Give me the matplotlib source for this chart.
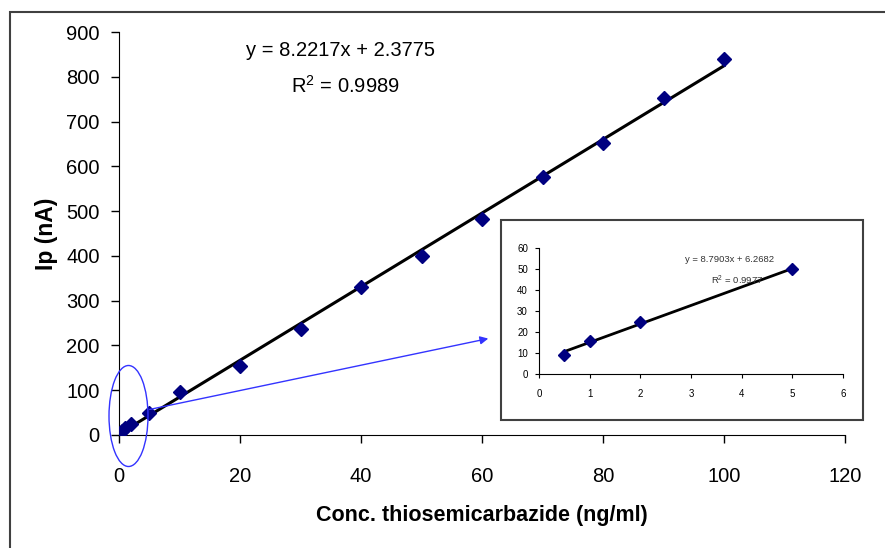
import matplotlib
matplotlib.use("Agg")
import matplotlib.pyplot as plt
from matplotlib.patches import Rectangle, Ellipse, FancyArrowPatch

plt.rcParams['font.family'] = ['Liberation Sans', 'DejaVu Sans']
plt.rcParams['mathtext.default'] = 'regular'

# main calibration data
conc = [0.5, 1, 2, 5, 10, 20, 30, 40, 50, 60, 70, 80, 90, 100]
ip = [9, 15.5, 25, 50, 95, 155, 237, 331, 399, 482, 577, 651, 752, 839]
slope, intercept = 8.2217, 2.3775
eq_text = "y = 8.2217x + 2.3775"
r2_text = "R$^2$ = 0.9989"

# inset (low concentration range)
conc_low = [0.5, 1, 2, 5]
ip_low = [9, 15.5, 25, 50]
slope_low, intercept_low = 8.7903, 6.2682
eq_low = "y = 8.7903x + 6.2682"
r2_low = "R$^2$ = 0.9977"

W, H = 885, 548
fig = plt.figure(figsize=(8.85, 5.48), dpi=100)

def fx(px):
    return px / W

def fy(py):
    return 1 - py / H

# outer frame
fig.patches.append(Rectangle((fx(10), fy(560)), fx(900), fy(12) - fy(560),
                             transform=fig.transFigure, fill=False,
                             edgecolor='#404040', lw=1.5))

ax = fig.add_axes([fx(119), fy(435), fx(845 - 119), fy(32) - fy(435)])
ax.plot(conc, ip, 'D', color='#000080', markersize=7.5, zorder=3)
xs = [conc[0], conc[-1]]
ax.plot(xs, [slope * x + intercept for x in xs], color='black', lw=2.2, zorder=2)
ax.set_xlim(0, 120)
ax.set_ylim(0, 900)
ax.set_xticks(range(0, 121, 20))
ax.set_yticks(range(0, 901, 100))
for s in ['top', 'right']:
    ax.spines[s].set_visible(False)
ax.tick_params(direction='out', length=6, width=1, labelsize=14.5)
ax.tick_params(axis='x', pad=17)
ax.tick_params(axis='y', pad=8)
ax.set_xlabel("Conc. thiosemicarbazide (ng/ml)", fontsize=15.5, fontweight='bold', labelpad=14)
ax.set_ylabel("Ip (nA)", fontsize=16.5, fontweight='bold', labelpad=6)
fig.text(fx(340), fy(50), eq_text, fontsize=14.5, ha='center', va='center')
fig.text(fx(345), fy(86), r2_text, fontsize=14.5, ha='center', va='center')

# ellipse marking the low range and arrow to inset
fig.patches.append(Ellipse((fx(128.5), fy(416)), fx(39), fy(365) - fy(466),
                           transform=fig.transFigure, fill=False,
                           edgecolor='#3333ff', lw=1, zorder=5))
fig.patches.append(FancyArrowPatch(
    (fx(147), fy(410)), (fx(491), fy(338)), transform=fig.transFigure,
    arrowstyle='-|>', mutation_scale=12, color='#3333ff', lw=1, zorder=5))

# inset box
fig.patches.append(Rectangle((fx(501), fy(420)), fx(863 - 501), fy(220) - fy(420),
                             transform=fig.transFigure, facecolor='white',
                             edgecolor='#404040', lw=1.5, zorder=4))

axi = fig.add_axes([fx(539), fy(374), fx(843 - 539), fy(248) - fy(374)], zorder=6)
axi.patch.set_alpha(0)
axi.plot(conc_low, ip_low, 'D', color='#000080', markersize=6.5, zorder=3)
xl = [conc_low[0], conc_low[-1]]
axi.plot(xl, [slope_low * x + intercept_low for x in xl], color='black', lw=2, zorder=2)
axi.set_xlim(0, 6)
axi.set_ylim(0, 60)
axi.set_xticks(range(0, 7))
axi.set_yticks(range(0, 61, 10))
for s in ['top', 'right']:
    axi.spines[s].set_visible(False)
axi.tick_params(direction='out', length=3, width=0.8, labelsize=7, pad=5)
axi.tick_params(axis='x', pad=8)
fig.text(fx(730), fy(259), eq_low, fontsize=6.8, ha='center', va='center', color='#333333', zorder=7)
fig.text(fx(737), fy(280), r2_low, fontsize=6.8, ha='center', va='center', color='#333333', zorder=7)

fig.savefig("out.png", dpi=100)
